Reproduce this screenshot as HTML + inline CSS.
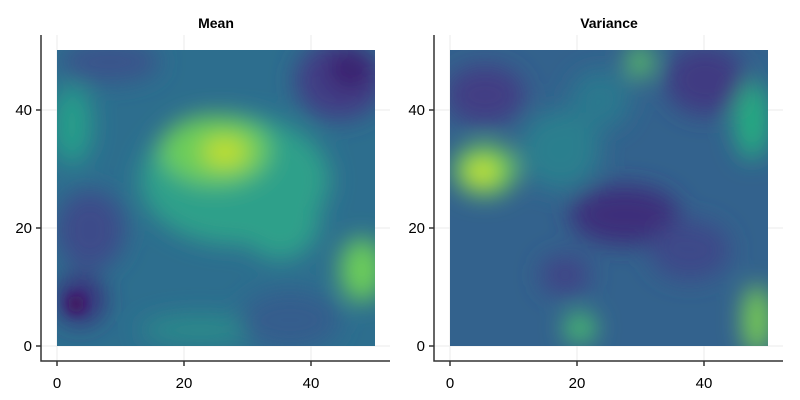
<!DOCTYPE html>
<html><head><style>body{margin:0;background:#fff}svg{display:block}</style></head><body>
<svg width="800" height="400" xmlns="http://www.w3.org/2000/svg" font-family="Liberation Sans, sans-serif">
<defs>
<clipPath id="c1"><rect x="57" y="50" width="318" height="296"/></clipPath>
<clipPath id="c2"><rect x="450" y="50" width="318" height="296"/></clipPath>
<filter id="b" x="-50%" y="-50%" width="200%" height="200%"><feGaussianBlur stdDeviation="12"/></filter>
<filter id="b2" x="-50%" y="-50%" width="200%" height="200%"><feGaussianBlur stdDeviation="6"/></filter>
</defs>
<g stroke="#ebebeb" stroke-width="1">
<line x1="57" y1="35" x2="57" y2="361"/><line x1="184" y1="35" x2="184" y2="361"/><line x1="311" y1="35" x2="311" y2="361"/>
<line x1="41" y1="346" x2="390" y2="346"/><line x1="41" y1="228" x2="390" y2="228"/><line x1="41" y1="110" x2="390" y2="110"/>
<line x1="450" y1="35" x2="450" y2="361"/><line x1="577" y1="35" x2="577" y2="361"/><line x1="704" y1="35" x2="704" y2="361"/>
<line x1="434" y1="346" x2="783" y2="346"/><line x1="434" y1="228" x2="783" y2="228"/><line x1="434" y1="110" x2="783" y2="110"/>
</g>
<g clip-path="url(#c1)">
<rect x="57" y="50" width="318" height="296" fill="#2d6e8e"/>
<g filter="url(#b)">
<ellipse cx="235" cy="180" rx="95" ry="65" fill="#2fa08a"/>
<ellipse cx="215" cy="150" rx="55" ry="35" fill="#6ccd5a"/>
<ellipse cx="225" cy="152" rx="22" ry="14" fill="#c8e020"/>
<ellipse cx="340" cy="80" rx="45" ry="40" fill="#433e85"/>
<ellipse cx="350" cy="70" rx="22" ry="20" fill="#3b1f6e"/>
<ellipse cx="90" cy="230" rx="35" ry="40" fill="#3e4c8a"/>
<ellipse cx="80" cy="300" rx="25" ry="25" fill="#3b2f7a"/>
<ellipse cx="362" cy="270" rx="22" ry="32" fill="#6ccd5a"/>
<ellipse cx="72" cy="125" rx="20" ry="40" fill="#259e8a"/>
<ellipse cx="110" cy="62" rx="50" ry="20" fill="#3b528b"/>
<ellipse cx="200" cy="330" rx="60" ry="15" fill="#2a8a8a"/>
<ellipse cx="290" cy="320" rx="50" ry="30" fill="#355d8d"/>
<ellipse cx="280" cy="220" rx="40" ry="40" fill="#2fa08a"/>
</g>
<ellipse cx="76" cy="304" rx="8" ry="9" fill="#440d5c" filter="url(#b2)"/>
</g>
<g clip-path="url(#c2)">
<rect x="450" y="50" width="318" height="296" fill="#33628d"/>
<g filter="url(#b)">
<ellipse cx="485" cy="170" rx="32" ry="26" fill="#6ccd5a"/>
<ellipse cx="482" cy="172" rx="15" ry="12" fill="#d2e21b"/>
<ellipse cx="757" cy="320" rx="14" ry="35" fill="#7ad151"/>
<ellipse cx="640" cy="62" rx="12" ry="16" fill="#5ec962"/>
<ellipse cx="580" cy="328" rx="16" ry="15" fill="#4ac16d"/>
<ellipse cx="752" cy="120" rx="18" ry="40" fill="#27ad81"/>
<ellipse cx="485" cy="95" rx="40" ry="30" fill="#433d84"/>
<ellipse cx="625" cy="215" rx="55" ry="30" fill="#3e2f7a"/>
<ellipse cx="705" cy="80" rx="40" ry="35" fill="#403a82"/>
<ellipse cx="565" cy="275" rx="25" ry="20" fill="#414487"/>
<ellipse cx="690" cy="250" rx="40" ry="30" fill="#3e4a89"/>
<ellipse cx="560" cy="150" rx="40" ry="40" fill="#2a7f8e"/>
<ellipse cx="600" cy="100" rx="30" ry="30" fill="#2b788e"/>
</g>
</g>
<g stroke="#333" stroke-width="1.5" fill="none">
<path d="M41 35V361H390"/><path d="M434 35V361H783"/>
<path d="M57 361v5M184 361v5M311 361v5M36 346h5M36 228h5M36 110h5"/>
<path d="M450 361v5M577 361v5M704 361v5M429 346h5M429 228h5M429 110h5"/>
</g>
<g font-size="15" fill="#000" text-anchor="middle">
<text x="57" y="388">0</text><text x="184" y="388">20</text><text x="311" y="388">40</text>
<text x="450" y="388">0</text><text x="577" y="388">20</text><text x="704" y="388">40</text>
</g>
<g font-size="15" fill="#000" text-anchor="end">
<text x="32" y="351">0</text><text x="32" y="233">20</text><text x="32" y="115">40</text>
<text x="425" y="351">0</text><text x="425" y="233">20</text><text x="425" y="115">40</text>
</g>
<g font-size="14" font-weight="bold" text-anchor="middle">
<text x="216" y="28">Mean</text><text x="609" y="28">Variance</text>
</g>
</svg>
</body></html>
